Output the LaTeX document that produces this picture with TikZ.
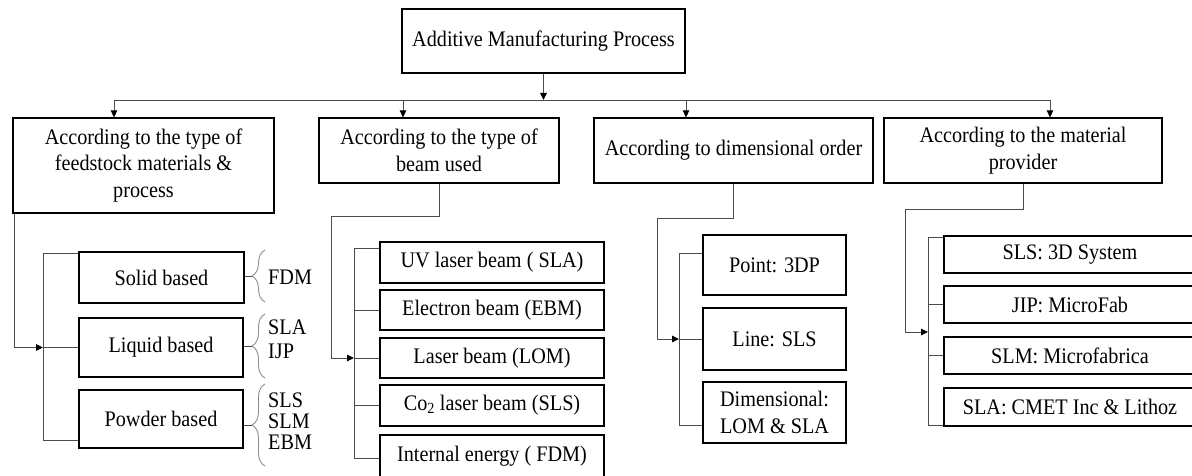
\documentclass[tikz,border=0pt]{standalone}
\usepackage{fontspec}
\setmainfont{Liberation Serif}[FakeStretch=0.91]
\usetikzlibrary{arrows.meta,decorations.pathreplacing}
\begin{document}
\begin{tikzpicture}[x=1pt,y=-1pt,
  box/.style={draw=black,line width=1.2pt,rectangle,inner sep=0pt,align=center,
    font=\fontsize{22.2}{26.5}\selectfont},
  conn/.style={draw=black!70,line width=0.9pt},
  arr/.style={conn,-{Triangle[length=7pt,width=6.5pt,fill=black,color=black]}},
  brc/.style={draw=black!45,line width=0.9pt,decorate,decoration={brace,amplitude=13pt}},
  lbl/.style={anchor=west,inner sep=0pt,font=\fontsize{22.2}{24}\selectfont}]
\useasboundingbox (0,0) rectangle (1192,476);

% top and level-1 boxes
\node[box,minimum width=283pt,minimum height=64pt] (top) at (543.5,41) {Additive Manufacturing Process};
\node[box,minimum width=261pt,minimum height=95pt] (A) at (143.5,165.5) {\raisebox{-3pt}{\begin{tabular}{@{}c@{}}According to the type of\\feedstock materials \&\\process\end{tabular}}};
\node[box,minimum width=240pt,minimum height=65pt] (B) at (439,150.5) {According to the type of\\beam used};
\node[box,minimum width=279pt,minimum height=65pt] (C) at (733.5,150.5) {According to dimensional order};
\node[box,minimum width=278pt,minimum height=65pt] (D) at (1023,150.5) {According to the material\\provider};

% bus
\coordinate (bus1) at (114,100);
\coordinate (busB) at (403,100);
\coordinate (busC) at (686,100);
\coordinate (bus4) at (1050,100);
\draw[conn] (bus1) -- (bus4);
\draw[arr] (top.south) -- (top.south |- bus1);
\draw[arr] (bus1) -- (bus1 |- A.north);
\draw[arr] (busB) -- (busB |- B.north);
\draw[arr] (busC) -- (busC |- C.north);
\draw[arr] (bus4) -- (bus4 |- D.north);

% group A
\node[box,minimum width=165pt,minimum height=51pt] (solid) at (161.5,277.5) {Solid based};
\node[box,minimum width=164pt,minimum height=59pt] (liquid) at (161,347.5) {Liquid based};
\node[box,minimum width=164pt,minimum height=58pt] (powder) at (161,419) {Powder based};
\coordinate (bAt) at (43,253);
\coordinate (bAb) at (43,440);
\coordinate (bAm) at (43,347.5);
\coordinate (cA) at (14,347.5);
\draw[conn] (solid.west |- bAt) -- (bAt) -- (bAb) -- (powder.west |- bAb);
\draw[conn] (bAm) -- (liquid.west);
\draw[arr] (cA |- A.south) -- (cA) -- (bAm);

\coordinate (tS) at (252,276);
\coordinate (tL) at (252,346);
\coordinate (tP) at (252,425);
\draw[brc] (265,302) -- (265,250);
\draw[brc] (265,378) -- (265,314);
\draw[brc] (265,466) -- (265,384);
\draw[conn] (solid.east |- tS) -- (tS);
\draw[conn] (liquid.east |- tL) -- (tL);
\draw[conn] (powder.east |- tP) -- (tP);
\node[lbl] (fdm) at (268,277) {FDM};
\node[lbl] (sla1) at (268,327) {SLA};
\node[lbl] (ijp) at (268,351) {IJP};
\node[lbl] (sls1) at (268,400) {SLS};
\node[lbl] (slm1) at (268,421) {SLM};
\node[lbl] (ebm) at (268,442) {EBM};

% group B
\node[box,minimum width=224pt,minimum height=41pt] (uv) at (492,262.5) {UV laser beam ( SLA)};
\node[box,minimum width=224pt,minimum height=40pt] (electron) at (492,310) {Electron beam (EBM)};
\node[box,minimum width=224pt,minimum height=40pt] (laser) at (492,358) {Laser beam (LOM)};
\node[box,minimum width=224pt,minimum height=41pt] (co2) at (492,405.5) {Co\textsubscript{2} laser beam (SLS)};
\node[box,minimum width=224pt,minimum height=42pt] (internal) at (492,456) {Internal energy ( FDM)};
\coordinate (bBt) at (354,248);
\coordinate (bBb) at (354,458);
\coordinate (eB) at (331,216);
\draw[conn] (uv.west |- bBt) -- (bBt) -- (bBb) -- (internal.west |- bBb);
\draw[conn] (bBt |- electron.west) -- (electron.west);
\draw[conn] (bBt |- laser.west) -- (laser.west);
\draw[conn] (bBt |- co2.west) -- (co2.west);
\draw[arr] (B.south) |- (eB) -- (eB |- laser.west) -- (bBt |- laser.west);

% group C
\node[box,minimum width=143pt,minimum height=60pt] (point) at (774.5,265) {Point: 3DP};
\node[box,minimum width=143pt,minimum height=62pt] (line) at (774.5,339) {Line: SLS};
\node[box,minimum width=143pt,minimum height=61pt] (dim) at (774.5,412.5) {Dimensional:\\LOM \& SLA};
\coordinate (bCt) at (679,253);
\coordinate (bCb) at (679,425);
\coordinate (eC) at (657,218);
\draw[conn] (point.west |- bCt) -- (bCt) -- (bCb) -- (dim.west |- bCb);
\draw[conn] (bCt |- line.west) -- (line.west);
\draw[arr] (C.south) |- (eC) -- (eC |- line.west) -- (bCt |- line.west);

% group D
\node[box,minimum width=252pt,minimum height=37pt] (d1) at (1070,254.5) {SLS: 3D System};
\node[box,minimum width=252pt,minimum height=37pt] (d2) at (1070,304.5) {JIP: MicroFab};
\node[box,minimum width=252pt,minimum height=37pt] (d3) at (1070,355.5) {SLM: Microfabrica};
\node[box,minimum width=252pt,minimum height=38pt] (d4) at (1070,407) {SLA: CMET Inc \& Lithoz};
\coordinate (bDt) at (928,237);
\coordinate (bDb) at (928,425);
\coordinate (bDm) at (928,332);
\coordinate (eD) at (905,209);
\draw[conn] (d1.west |- bDt) -- (bDt) -- (bDb) -- (d4.west |- bDb);
\draw[conn] (bDt |- d2.west) -- (d2.west);
\draw[conn] (bDt |- d3.west) -- (d3.west);
\draw[arr] (D.south) |- (eD) -- (eD |- bDm) -- (bDm);
\end{tikzpicture}
\end{document}
